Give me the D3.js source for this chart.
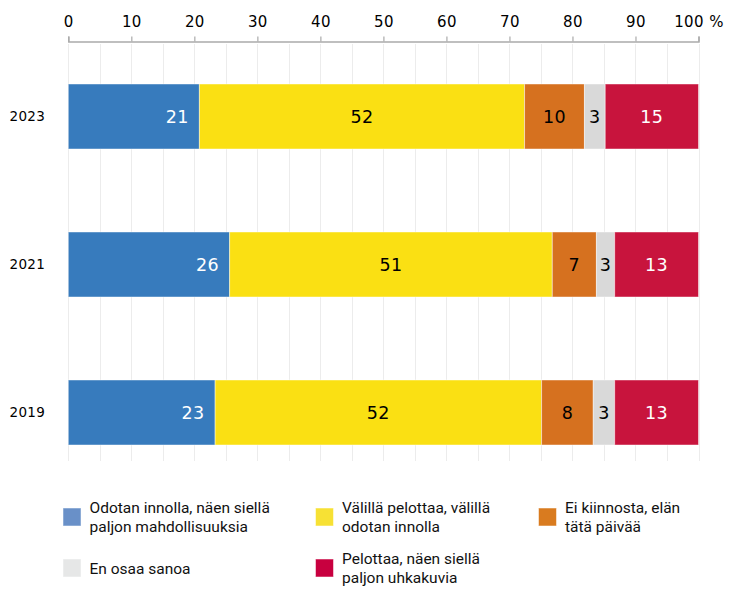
<!DOCTYPE html>
<html>
<head>
<meta charset="utf-8">
<script src="https://cdn.jsdelivr.net/npm/d3@7"></script>
<style>
  html, body { margin: 0; padding: 0; background: #fff; }
  svg { display: block; }
</style>
</head>
<body>
<svg id="chart" width="738" height="591"></svg>
<script>
// ---- Data ----
const years = ["2023", "2021", "2019"];
const categories = [
  "Odotan innolla, näen siellä paljon mahdollisuuksia",
  "Välillä pelottaa, välillä odotan innolla",
  "Ei kiinnosta, elän tätä päivää",
  "En osaa sanoa",
  "Pelottaa, näen siellä paljon uhkakuvia"
];
const legendLines = [
  ["Odotan innolla, näen siellä", "paljon mahdollisuuksia"],
  ["Välillä pelottaa, välillä", "odotan innolla"],
  ["Ei kiinnosta, elän", "tätä päivää"],
  ["En osaa sanoa"],
  ["Pelottaa, näen siellä", "paljon uhkakuvia"]
];
const values2023 = [20.8, 51.6, 9.5, 3.3, 14.8];
const values2021 = [25.6, 51.2, 7.0, 2.9, 13.3];
const values2019 = [23.3, 51.8, 8.2, 3.4, 13.3];
const labels2023 = [21, 52, 10, 3, 15];
const labels2021 = [26, 51, 7, 3, 13];
const labels2019 = [23, 52, 8, 3, 13];
const tickValues = [0, 10, 20, 30, 40, 50, 60, 70, 80, 90, 100];
const tickLabels = ["0", "10", "20", "30", "40", "50", "60", "70", "80", "90", "100 %"];

const colors = ["#377bbd", "#fae013", "#d6711f", "#d9d9d9", "#c8143d"];
const legendColors = ["#6990c8", "#f7e134", "#d97b1f", "#e6e7e7", "#c8003f"];
const textColors = ["#fff", "#000", "#000", "#000", "#fff"];

const valuesByYear = { "2023": values2023, "2021": values2021, "2019": values2019 };
const labelsByYear = { "2023": labels2023, "2021": labels2021, "2019": labels2019 };

// ---- Layout ----
const svg = d3.select("#chart");
const x = d3.scaleLinear().domain([0, 100]).range([68.3, 698.5]);
const y = d3.scaleBand().domain(years).range([42.5, 486.5])
  .paddingInner(0.5608).paddingOuter(0.2804);

// gridlines every 5
const gridVals = d3.range(0, 101, 5);
svg.append("g").selectAll("line").data(gridVals).join("line")
  .attr("x1", d => Math.round(x(d)) + 0.5).attr("x2", d => Math.round(x(d)) + 0.5)
  .attr("y1", 44).attr("y2", 461)
  .attr("stroke", "#ececec").attr("stroke-width", 1);

// axis on top
const axis = d3.axisTop(x).tickValues(tickValues)
  .tickFormat((d, i) => tickLabels[i]).tickSize(5).tickSizeOuter(5).tickPadding(10);
const ag = svg.append("g").attr("transform", "translate(0,41.5)").call(axis);
ag.select(".domain").attr("stroke", "#aaa").attr("stroke-width", 1.5);
ag.selectAll(".tick line").attr("stroke", "#aaa").attr("stroke-width", 1.2);
ag.selectAll(".tick text")
  .attr("fill", "#000")
  .style("font-family", "'DejaVu Sans', sans-serif")
  .style("font-size", "15px")
  .style("letter-spacing", "0.4px");

// bars
years.forEach(yr => {
  const vals = valuesByYear[yr];
  const labs = labelsByYear[yr];
  let cum = 0;
  const segs = vals.map((v, i) => {
    const s = { x0: cum, x1: cum + v, i, label: labs[i] };
    cum += v;
    return s;
  });
  const g = svg.append("g");
  g.selectAll("rect").data(segs).join("rect")
    .attr("x", d => x(d.x0)).attr("width", d => x(d.x1) - x(d.x0))
    .attr("y", y(yr)).attr("height", y.bandwidth())
    .attr("fill", d => colors[d.i])
    .attr("stroke", "rgba(255,255,255,0.45)").attr("stroke-width", 1);
  g.selectAll("text").data(segs).join("text")
    .attr("x", d => d.i === 0 ? x(d.x1) - 10.5 : (x(d.x0) + x(d.x1)) / 2)
    .attr("y", y(yr) + y.bandwidth() / 2)
    .attr("dy", "0.36em")
    .attr("text-anchor", d => d.i === 0 ? "end" : "middle")
    .attr("fill", d => textColors[d.i])
    .style("font-family", "'DejaVu Sans', sans-serif")
    .style("font-size", "17.5px")
    .style("letter-spacing", "0.4px")
    .text(d => d.label);

  svg.append("text")
    .attr("x", 9.5).attr("y", y(yr) + y.bandwidth() / 2)
    .attr("dy", "0.36em")
    .attr("fill", "#000")
    .style("font-family", "'DejaVu Sans', sans-serif")
    .style("font-size", "13.5px")
    .style("letter-spacing", "0.3px")
    .text(yr);
});

// legend
const legendPos = [
  { sx: 63, cy: 517 }, { sx: 315.5, cy: 517 }, { sx: 538.5, cy: 517 },
  { sx: 63, cy: 568 }, { sx: 315.5, cy: 568 }
];
const lg = svg.append("g");
categories.forEach((c, i) => {
  const p = legendPos[i];
  lg.append("rect")
    .attr("x", p.sx).attr("y", p.cy - 9).attr("width", 18).attr("height", 18)
    .attr("fill", legendColors[i])
    .attr("stroke", "rgba(255,255,255,0.5)").attr("stroke-width", 1);
  const lines = legendLines[i];
  const lh = 18.5;
  const t = lg.append("text")
    .attr("fill", "#111")
    .style("font-family", "Roboto, sans-serif")
    .style("font-size", "15.5px");
  lines.forEach((ln, k) => {
    t.append("tspan")
      .attr("x", p.sx + 26.5)
      .attr("y", p.cy + (k - (lines.length - 1) / 2) * lh)
      .attr("dy", "0.36em")
      .text(ln);
  });
});
</script>
</body>
</html>
